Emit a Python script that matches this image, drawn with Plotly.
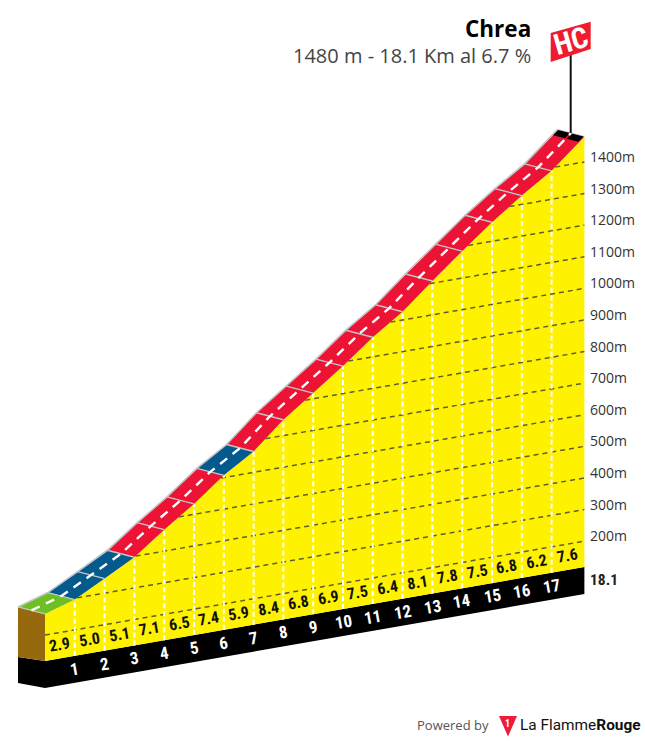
import numpy as np
import plotly.graph_objects as go

# profile
km_marks = [0, 1, 2, 3, 4, 5, 6, 7, 8, 9, 10, 11, 12, 13, 14, 15, 16, 17, 18.1]
altitudes = [267, 296, 346, 397, 468, 533, 607, 666, 750, 818, 887, 962, 1026, 1107, 1185, 1260, 1328, 1390, 1480]
gradients = [2.9, 5.0, 5.1, 7.1, 6.5, 7.4, 5.9, 8.4, 6.8, 6.9, 7.5, 6.4, 8.1, 7.8, 7.5, 6.8, 6.2, 7.6]
alt_ticks = [200, 300, 400, 500, 600, 700, 800, 900, 1000, 1100, 1200, 1300, 1400]
km_labels = list(range(1, 18))

W, H = 645, 742
KM_PX = 29.8          # px per km
M_PX = 0.316          # px per metre
BASE_ALT = 118        # altitude sitting on the front baseline
SHEAR = 5.19 / M_PX   # baseline rises to the right
X0, Y0 = 45, 661      # pixel of km 0 on the baseline
DEPTH_KM = -27 / KM_PX
DEPTH_M = 7 / M_PX
PLINTH = 27 / M_PX

YELLOW = "#fff200"
RED = "#ed1334"
BLUE = "#045a8d"
GREEN = "#6cc024"
GREY = "#c4c4c4"
BROWN = "#96690f"
DARK = "#222222"
NARROW = "Roboto Condensed, Liberation Sans Narrow, Arial Narrow, Roboto, sans-serif"


def proj(km, alt):
    km = np.asarray(km, float)
    return km, np.asarray(alt, float) - BASE_ALT + km * SHEAR


def proj1(km, alt):
    return float(km), float(alt) - BASE_ALT + float(km) * SHEAR


def road_color(g):
    if g < 3:
        return GREEN
    if g < 6:
        return BLUE
    return RED


def poly(fig, xs, ys, color, line_color=None, line_width=0):
    fig.add_trace(go.Scatter(
        x=[float(v) for v in xs], y=[float(v) for v in ys], mode="lines", fill="toself", fillcolor=color,
        line=dict(color=line_color or color, width=line_width), hoverinfo="skip",
    ))


def line(fig, xs, ys, color, width, dash="solid"):
    fig.add_trace(go.Scatter(
        x=[float(v) for v in xs], y=[float(v) for v in ys], mode="lines",
        line=dict(color=color, width=width, dash=dash), hoverinfo="skip",
    ))


fig = go.Figure()
end = km_marks[-1]

# black plinth and brown end face
x_a, y_a = proj1(0, BASE_ALT)
x_b, y_b = proj1(end, BASE_ALT)
poly(fig,
     [x_a + DEPTH_KM, x_a, x_b, x_b, x_a, x_a + DEPTH_KM],
     [y_a + 4 / M_PX, y_a, y_b, y_b - PLINTH, y_a - PLINTH, y_a - PLINTH + 5 / M_PX],
     "#000000")
tx, ty = proj1(km_marks[0], altitudes[0])
poly(fig,
     [tx, tx + DEPTH_KM, tx + DEPTH_KM, tx],
     [ty, ty + DEPTH_M, y_a + 4 / M_PX, y_a],
     BROWN)

# yellow face
px_, py_ = proj(km_marks, altitudes)
poly(fig, list(px_) + [end, 0], list(py_) + [y_b, y_a], YELLOW)

# altitude grid
for a in alt_ticks:
    start = float(np.interp(a, altitudes, km_marks))
    gx, gy = proj([start, end], [a, a])
    line(fig, gx, gy, "#5f5f28", 1.5, "5px,4px")

# km lines
for k in km_labels:
    top = float(np.interp(k, km_marks, altitudes))
    kx, ky = proj([k, k], [BASE_ALT, top])
    line(fig, kx, ky, "#ffffff", 2, "5px,3px")

# road
for i, g in enumerate(gradients):
    xa, xb = px_[i], px_[i + 1]
    ya, yb = py_[i], py_[i + 1]
    poly(fig,
         [xa, xb, xb + DEPTH_KM, xa + DEPTH_KM],
         [ya, yb, yb + DEPTH_M, ya + DEPTH_M],
         road_color(g))
for i in range(len(px_)):
    line(fig, [px_[i], px_[i] + DEPTH_KM], [py_[i], py_[i] + DEPTH_M], GREY, 1.4)
line(fig, px_ + DEPTH_KM, py_ + DEPTH_M, GREY, 1.6)

# finish band
fin_km = end - 0.17
fin_alt = float(np.interp(fin_km, km_marks, altitudes))
fx, fy = proj1(fin_km, fin_alt)
ex, ey = px_[-1], py_[-1]
for d0, d1 in [(0.03, 0.47), (0.53, 0.97)]:
    poly(fig,
         [fx + d0 * DEPTH_KM, ex + d0 * DEPTH_KM, ex + d1 * DEPTH_KM, fx + d1 * DEPTH_KM],
         [fy + d0 * DEPTH_M, ey + d0 * DEPTH_M, ey + d1 * DEPTH_M, fy + d1 * DEPTH_M],
         "#000000")

# centre dashes
line(fig, px_ + DEPTH_KM / 2, py_ + DEPTH_M / 2, "#ffffff", 2.4, "9px,7px")

annotations = []


def label(x, y, text, size, color, font=NARROW, angle=0, anchor="center", yshift=0, bold=False, xref="x", yref="y"):
    annotations.append(dict(
        x=x, y=y, xref=xref, yref=yref, text=f"<b>{text}</b>" if bold else text,
        showarrow=False, textangle=angle, xanchor=anchor, yanchor="middle", yshift=yshift,
        font=dict(family=font, size=size, color=color),
    ))


for i, g in enumerate(gradients):
    mid = (km_marks[i] + km_marks[i + 1]) / 2
    mx, my = proj1(mid, BASE_ALT)
    label(mx, my, f"{g:.1f}", 16, "#111111", angle=-10, yshift=14, bold=True)

for k in km_labels:
    kx, ky = proj1(k, BASE_ALT)
    label(kx, ky, str(k), 17, "#ffffff", angle=-10, yshift=-13, bold=True)

for a in alt_ticks:
    ax, ay = proj1(end, a)
    label(ax + 4 / KM_PX, ay, f"{a}m", 14, "#333333", font="Open Sans, sans-serif", anchor="left", yshift=5.5)

lx, ly = proj1(end, BASE_ALT)
label(lx + 4 / KM_PX, ly, "18.1", 15.5, DARK, anchor="left", yshift=-13, bold=True)


# paper-space furniture
def to_paper(px, py):
    return px / W, 1 - py / H


def path(points):
    pts = [to_paper(*p) for p in points]
    return "M " + " L ".join(f"{a:.5f} {b:.5f}" for a, b in pts) + " Z"


shapes = [
    dict(type="line", xref="paper", yref="paper",
         x0=570.7 / W, x1=570.7 / W, y0=1 - 55 / H, y1=1 - 133 / H,
         line=dict(color="#111111", width=2)),
    dict(type="path", xref="paper", yref="paper", line_width=0, fillcolor="#ee1c2e",
         path=path([(550.7, 33), (590.7, 21.7), (590.7, 49), (550.7, 62)])),
    dict(type="path", xref="paper", yref="paper", line_width=0, fillcolor="#ee1c3c",
         path=path([(499, 716), (517, 716), (508, 736.5)])),
]

label(570.5 / W, 1 - 41.5 / H, "HC", 29, "#ffffff", angle=-16, bold=True, xref="paper", yref="paper")
label(533 / W, 1 - 29 / H, "Chrea", 22.5, "#000000", font="Open Sans, sans-serif", anchor="right", bold=True, xref="paper", yref="paper")
label(533 / W, 1 - 55 / H, "1480 m - 18.1 Km al 6.7 %", 20, "#444444", font="Open Sans, sans-serif", anchor="right", xref="paper", yref="paper")
label(415 / W, 1 - 725 / H, "Powered by", 13, "#555555", font="Open Sans, sans-serif", anchor="left", xref="paper", yref="paper")
label(507.5 / W, 1 - 723.5 / H, "1", 10, "#ffffff", bold=True, xref="paper", yref="paper")
label(518 / W, 1 - 725 / H, "La Flamme<b>Rouge</b>", 15.4, "#111111", font="Roboto, sans-serif", anchor="left", xref="paper", yref="paper")

fig.update_layout(
    width=W, height=H, margin=dict(l=0, r=0, t=0, b=0),
    paper_bgcolor="white", plot_bgcolor="white", showlegend=False,
    annotations=annotations, shapes=shapes,
    xaxis=dict(range=[-X0 / KM_PX, (W - X0) / KM_PX], visible=False, fixedrange=True),
    yaxis=dict(range=[(Y0 - H) / M_PX, Y0 / M_PX], visible=False, fixedrange=True),
)

fig.write_html("out.html", config={"displayModeBar": False},
               post_script="document.body.style.margin='0';")
